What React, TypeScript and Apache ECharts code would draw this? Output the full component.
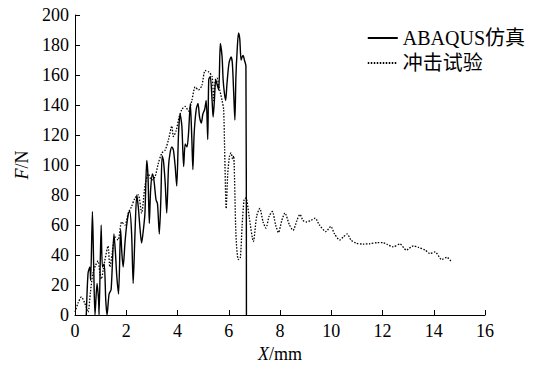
import React, { useEffect, useRef } from "react";
import * as echarts from "echarts";

const xTicks = { min: 0, max: 16, interval: 2 };
const yTicks = { min: 0, max: 200, interval: 20 };

const seriesNames = ["ABAQUS仿真", "冲击试验"];

// ABAQUS simulation [X (mm), F (N)]
const simData: number[][] = [
  [0.44, 0], [0.51, 28], [0.58, 32], [0.61, 23], [0.68, 69], [0.73, 32], [0.78, 0],
  [0.86, 21], [0.92, 10], [0.94, 0], [1.02, 60], [1.07, 32], [1.14, 34], [1.2, 10],
  [1.25, 0], [1.33, 14], [1.41, 17], [1.52, 54], [1.58, 41], [1.63, 26], [1.7, 14],
  [1.78, 57], [1.83, 41], [1.88, 32], [1.95, 48], [2.01, 59], [2.09, 68], [2.14, 69],
  [2.21, 54], [2.27, 21], [2.34, 54], [2.41, 80], [2.47, 72], [2.54, 57], [2.6, 48],
  [2.67, 57], [2.73, 68], [2.8, 103], [2.85, 92], [2.9, 61], [2.95, 83], [3.02, 94],
  [3.08, 90], [3.16, 77], [3.22, 74], [3.29, 54], [3.35, 77], [3.4, 106], [3.45, 103],
  [3.52, 88], [3.58, 68], [3.65, 99], [3.71, 108], [3.78, 112], [3.84, 110], [3.91, 99],
  [3.97, 86], [4.04, 121], [4.1, 134], [4.17, 126], [4.24, 99], [4.3, 114], [4.37, 112],
  [4.43, 121], [4.5, 141], [4.56, 117], [4.6, 97], [4.65, 121], [4.73, 137], [4.8, 141],
  [4.86, 132], [4.93, 128], [4.99, 134], [5.06, 137], [5.12, 143], [5.18, 117], [5.22, 157],
  [5.28, 159], [5.35, 143], [5.39, 132], [5.44, 143], [5.49, 157], [5.54, 154], [5.61, 150],
  [5.67, 181], [5.74, 172], [5.78, 157], [5.83, 148], [5.88, 143], [5.93, 154], [6.01, 168],
  [6.09, 172], [6.14, 168], [6.2, 145], [6.24, 130], [6.28, 159], [6.33, 177], [6.38, 188],
  [6.43, 184], [6.48, 170], [6.52, 172], [6.56, 173], [6.61, 170], [6.67, 166], [6.69, 0],
];

// Impact test [X (mm), F (N)]
const testData: number[][] = [
  [0, 2], [0.12, 8], [0.25, 12], [0.38, 8], [0.51, 2], [0.6, 15], [0.7, 28], [0.8, 33],
  [0.9, 36], [0.97, 28], [1.03, 24], [1.1, 30], [1.16, 36], [1.29, 46], [1.36, 32],
  [1.45, 41], [1.56, 52], [1.68, 50], [1.82, 62], [1.95, 60], [2.08, 68], [2.2, 72],
  [2.34, 78], [2.47, 80], [2.6, 68], [2.73, 86], [2.86, 94], [2.99, 90], [3.12, 92],
  [3.25, 101], [3.39, 108], [3.52, 110], [3.65, 117], [3.78, 126], [3.84, 119], [3.95, 123],
  [4.05, 131], [4.17, 137], [4.3, 139], [4.43, 136], [4.56, 143], [4.69, 152], [4.82, 150],
  [4.95, 153], [5.08, 163], [5.22, 162], [5.35, 159], [5.41, 143], [5.48, 157], [5.54, 158],
  [5.62, 152], [5.74, 143], [5.8, 137], [5.84, 110], [5.9, 71], [5.96, 94], [6.03, 106],
  [6.09, 108], [6.15, 104], [6.19, 106], [6.28, 54], [6.37, 37], [6.45, 38], [6.52, 59],
  [6.6, 77], [6.67, 78], [6.8, 65], [6.96, 49], [7.09, 66], [7.21, 71], [7.34, 62],
  [7.45, 58], [7.58, 66], [7.7, 69], [7.83, 60], [7.94, 55], [8.07, 63], [8.19, 68],
  [8.37, 60], [8.51, 56.5], [8.66, 63], [8.78, 67], [8.9, 63], [9.03, 62], [9.2, 63],
  [9.37, 64.5], [9.54, 60], [9.79, 55.6], [9.98, 59], [10.13, 54], [10.33, 50], [10.47, 52],
  [10.62, 54], [10.77, 50], [10.96, 48], [11.24, 47.3], [11.5, 47.5], [11.8, 48.2],
  [12.02, 48.2], [12.19, 47], [12.41, 45.5], [12.68, 47.3], [12.93, 43.3], [13.2, 46],
  [13.41, 45], [13.66, 43.3], [13.85, 41], [14.05, 42], [14.31, 37], [14.51, 38.5], [14.69, 35.5],
];

const FONT = "Liberation Serif";
const LEGEND_FONT = "Liberation Serif, Noto Sans CJK SC";

export default function App() {
  const ref = useRef<HTMLDivElement>(null);
  useEffect(() => {
    if (!ref.current) return;
    const chart = echarts.init(ref.current, undefined, { renderer: "svg" });
    const axisCommon = {
      axisLine: { show: true, lineStyle: { color: "#000", width: 1 } },
      axisTick: { show: true, inside: true, length: 5, lineStyle: { color: "#000" } },
      splitLine: { show: false },
    };
    chart.setOption({
      animation: false,
      backgroundColor: "#fff",
      grid: { left: 75, right: 50, top: 15, bottom: 55 },
      legend: {
        orient: "vertical",
        right: 5,
        top: 23,
        itemWidth: 30,
        itemHeight: 12,
        itemGap: 5,
        itemStyle: { opacity: 0 },
        textStyle: { fontFamily: LEGEND_FONT, fontSize: 20, color: "#000" },
        data: seriesNames,
      },
      xAxis: {
        type: "value",
        min: xTicks.min,
        max: xTicks.max,
        interval: xTicks.interval,
        ...axisCommon,
        axisLabel: { fontFamily: FONT, fontSize: 18, color: "#000", margin: 7 },
        name: "{i|X}{n|/mm}",
        nameLocation: "middle",
        nameGap: 28,
        nameTextStyle: {
          rich: {
            i: { fontFamily: FONT, fontSize: 18, fontStyle: "italic", color: "#000" },
            n: { fontFamily: FONT, fontSize: 18, color: "#000" },
          },
        },
      },
      yAxis: {
        type: "value",
        min: yTicks.min,
        max: yTicks.max,
        interval: yTicks.interval,
        ...axisCommon,
        axisLabel: { fontFamily: FONT, fontSize: 18, color: "#000", margin: 6 },
        name: "{i|F}{n|/N}",
        nameLocation: "middle",
        nameGap: 44,
        nameTextStyle: {
          rich: {
            i: { fontFamily: FONT, fontSize: 18, fontStyle: "italic", color: "#000" },
            n: { fontFamily: FONT, fontSize: 18, color: "#000" },
          },
        },
      },
      series: [
        {
          name: seriesNames[0],
          type: "line",
          data: simData,
          showSymbol: false,
          symbol: "none",
          smooth: 0.25,
          lineStyle: { color: "#000", width: 1.4, type: "solid" },
          itemStyle: { color: "#000" },
        },
        {
          name: seriesNames[1],
          type: "line",
          data: testData,
          showSymbol: false,
          symbol: "none",
          smooth: 0.25,
          lineStyle: { color: "#000", width: 1.3, type: [1.5, 1.5] },
          itemStyle: { color: "#000" },
        },
      ],
    });
    return () => chart.dispose();
  }, []);
  return (
    <div
      ref={ref}
      style={{ position: "fixed", left: 0, top: 0, width: 535, height: 370 }}
    />
  );
}
